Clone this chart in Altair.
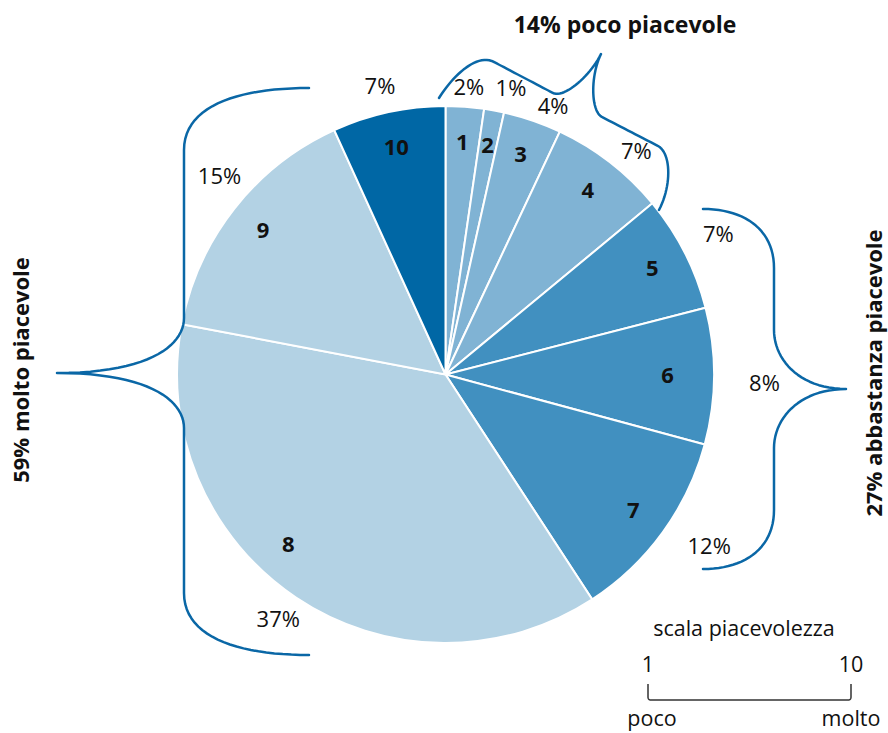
import altair as alt
import pandas as pd
import numpy as np

# ---- data ----
categories = [1, 2, 3, 4, 5, 6, 7, 8, 9, 10]
shares = [2.3, 1.2, 3.5, 7.0, 7.0, 8.2, 11.6, 37.2, 15.2, 6.8]
pct_labels = ["2%", "1%", "4%", "7%", "7%", "8%", "12%", "37%", "15%", "7%"]
slice_colors = ["#80b3d4", "#80b3d4", "#80b3d4", "#80b3d4",
                "#4190c0", "#4190c0", "#4190c0",
                "#b3d2e4", "#b3d2e4", "#0067a5"]
group_titles = ["14% poco piacevole", "59% molto piacevole", "27% abbastanza piacevole"]
scale_title = "scala piacevolezza"
scale_ends = ["1", "10"]
scale_words = ["poco", "molto"]

# ---- layout / style ----
W, H = 888, 733
CX, CY, R = 445.5, 374.5, 268.5
FONT = "Open Sans"
BRACE = "#0a67a6"
# manual label nudges (pixels) as placed in the original layout
OUTER_NUDGE = {1: (2, 8), 2: (12, 5), 3: (12, 12), 4: (10, 11), 5: (10, -6),
               6: (24, 8), 7: (25, -1), 8: (-3, 0), 9: (6, -15), 10: (-3, 1)}
INNER_NUDGE = {6: (-10, 0), 8: (-28, -22)}

df = pd.DataFrame({"cat": categories, "v": shares, "pct": pct_labels,
                   "lab": [str(c) for c in categories]})


# ---- brace geometry (annotation shapes) ----
def bez(p0, c1, c2, p3, n=24):
    t = np.linspace(0, 1, n)[:, None]
    p0, c1, c2, p3 = map(np.array, (p0, c1, c2, p3))
    return ((1 - t) ** 3) * p0 + 3 * ((1 - t) ** 2) * t * c1 + 3 * (1 - t) * t ** 2 * c2 + t ** 3 * p3


def path(segments):
    pts = []
    for s in segments:
        pts.extend(bez(*s).tolist())
    return pts


def line_seg(a, b):
    return (a, a, b, b)


brace_defs = {
    "left": [
        ((309, 88), (240, 88), (184, 105), (184, 150)),
        line_seg((184, 150), (184, 318)),
        ((184, 318), (184, 345), (150, 373), (57, 373)),
        ((57, 373), (150, 373), (184, 401), (184, 428)),
        line_seg((184, 428), (184, 593)),
        ((184, 593), (184, 638), (240, 655), (309, 655)),
    ],
    "right": [
        ((703, 209), (745, 209), (774, 230), (774, 268)),
        line_seg((774, 268), (774, 330)),
        ((774, 330), (774, 360), (800, 389), (846, 389)),
        ((846, 389), (800, 389), (774, 418), (774, 448)),
        line_seg((774, 448), (774, 510)),
        ((774, 510), (774, 548), (745, 569), (703, 569)),
    ],
    "top": [
        ((439, 98), (452, 77), (476.4, 52.6), (494, 62)),
        line_seg((494, 62), (553, 93)),
        ((553, 93), (563.6, 98.6), (590, 76.5), (601, 54)),
        ((601, 54), (590, 76.5), (591, 111.5), (602, 117)),
        line_seg((602, 117), (658, 146)),
        ((658, 146), (671, 153), (672, 185), (659, 210)),
    ],
}
rows = []
for name, segs in brace_defs.items():
    for i, (x, y) in enumerate(path(segs)):
        rows.append({"x": x, "y": y, "brace": name, "i": i})
braces = pd.DataFrame(rows)

bracket = pd.DataFrame(
    [{"x": x, "y": y, "i": i} for i, (x, y) in enumerate(path([
        line_seg((648, 684), (648, 697)),
        ((648, 697), (648, 699), (649, 700), (651, 700)),
        line_seg((651, 700), (848, 700)),
        ((848, 700), (850, 700), (851, 699), (851, 697)),
        line_seg((851, 697), (851, 684)),
    ]))]
)

xs = alt.Scale(domain=[0, W], range=[0, W], nice=False, zero=False)
ys = alt.Scale(domain=[0, H], range=[0, H], nice=False, zero=False)
tscale = alt.Scale(domain=[0, 100], range=[0, 2 * np.pi])

base = alt.Chart(df)

arcs = base.mark_arc(outerRadius=R, stroke="white", strokeWidth=2).encode(
    theta=alt.Theta("v:Q", stack=True, scale=tscale),
    order=alt.Order("cat:Q", sort="ascending"),
    color=alt.Color("cat:N", scale=alt.Scale(domain=categories, range=slice_colors), legend=None),
    x=alt.value(CX), y=alt.value(CY),
)

mid = base.transform_window(
    cum="sum(v)", sort=[alt.SortField("cat", order="ascending")], frame=[None, 0]
).transform_calculate(mid="datum.cum - datum.v / 2")


def slice_label(cat, field, radius, size, weight, nudge):
    dx, dy = nudge.get(cat, (0, 0))
    return mid.transform_filter(f"datum.cat == {cat}").mark_text(
        radius=radius, font=FONT, fontSize=size, fontWeight=weight, color="#111",
        align="center", baseline="middle", dx=dx, dy=dy).encode(
        theta=alt.Theta("mid:Q", scale=tscale), text=f"{field}:N",
        x=alt.value(CX), y=alt.value(CY))


inner_layers = [slice_label(c, "lab", 232, 22, "bold", INNER_NUDGE) for c in categories]
outer_layers = [slice_label(c, "pct", 295, 22, "normal", OUTER_NUDGE) for c in categories]

brace_lines = alt.Chart(braces).mark_line(color=BRACE, strokeWidth=2.5, strokeCap="round",
                                          strokeJoin="round").encode(
    x=alt.X("x:Q", scale=xs, axis=None), y=alt.Y("y:Q", scale=ys, axis=None),
    detail="brace:N", order="i:Q")

bracket_line = alt.Chart(bracket).mark_line(color="#333", strokeWidth=1.5).encode(
    x=alt.X("x:Q", scale=xs, axis=None), y=alt.Y("y:Q", scale=ys, axis=None), order="i:Q")


def txt(s, x, y, size=21, weight="normal", angle=0, baseline="alphabetic", align="center"):
    return alt.Chart(pd.DataFrame({"t": [s]})).mark_text(
        font=FONT, fontSize=size, fontWeight=weight, angle=angle, color="#111",
        baseline=baseline, align=align).encode(text="t:N", x=alt.value(x), y=alt.value(y))


titles = [
    txt(group_titles[0], 625, 33, 23, "bold"),
    txt(group_titles[1], 29, 370, 22, "bold", angle=270),
    txt(group_titles[2], 882, 373, 22, "bold", angle=270),
    txt(scale_title, 744, 636, 21.5, "normal"),
    txt(scale_ends[0], 648, 672, 21.5, "normal"),
    txt(scale_ends[1], 851, 672, 21.5, "normal"),
    txt(scale_words[0], 652, 726, 21.5, "normal"),
    txt(scale_words[1], 851, 726, 21.5, "normal"),
]

chart = alt.layer(arcs, *inner_layers, *outer_layers, brace_lines, bracket_line, *titles).properties(
    width=W, height=H, padding=0, autosize=alt.AutoSizeParams(type="none")
).configure_view(stroke=None).resolve_scale(theta="independent")

chart.save("out.html", embed_options={"renderer": "svg", "actions": False})
